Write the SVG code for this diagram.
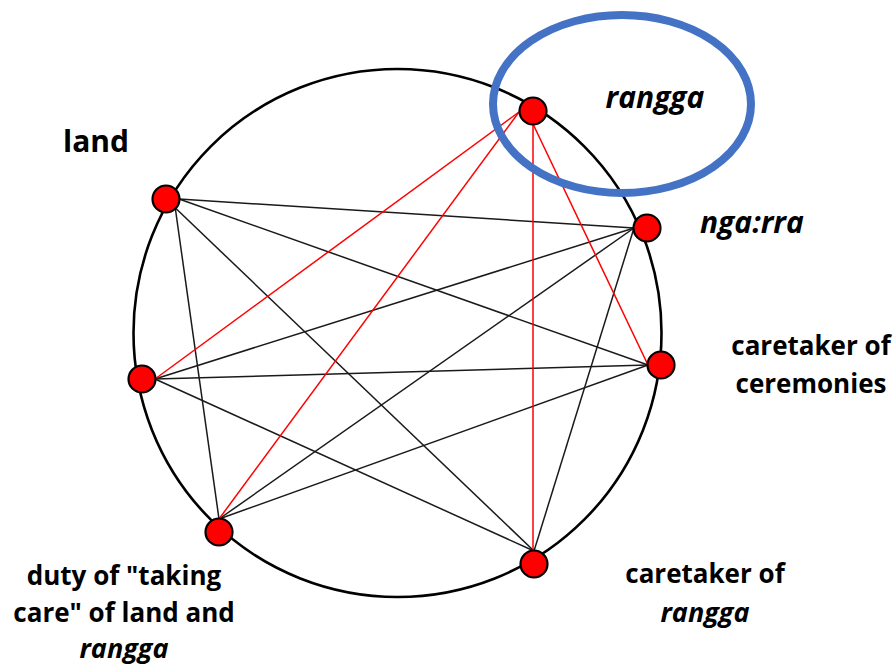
<svg xmlns="http://www.w3.org/2000/svg" width="896" height="668" viewBox="0 0 896 668">
  <style>
    .ring { fill: none; stroke: #000; stroke-width: 2.6; }
    .blk { stroke: #1a1a1a; stroke-width: 1.5; fill: none; }
    .red { stroke: #ff0000; stroke-width: 1.5; fill: none; }
    .node { fill: #ff0000; stroke: #000; stroke-width: 2.2; }
    .lbl { font-family: "Open Sans", "Liberation Sans", sans-serif; font-weight: 700; fill: #000; font-size: 26px; }
    .it { font-style: italic; }
    .hl { fill: none; stroke: #4472c4; stroke-width: 8; }
  </style>
  <rect width="896" height="668" fill="#fff"/>
  <circle class="ring" cx="397.5" cy="333" r="264"/>
  <g id="connectors">
    <line class="blk" x1="179" y1="199" x2="634" y2="228"/>
    <line class="blk" x1="179" y1="199" x2="648" y2="365"/>
    <line class="blk" x1="166" y1="199" x2="534" y2="551"/>
    <line class="blk" x1="174" y1="199" x2="219" y2="519"/>
    <line class="blk" x1="634" y1="228" x2="155" y2="379"/>
    <line class="blk" x1="634" y1="228" x2="219" y2="519"/>
    <line class="blk" x1="634" y1="228" x2="534" y2="551"/>
    <line class="blk" x1="648" y1="365" x2="155" y2="379"/>
    <line class="blk" x1="648" y1="365" x2="219" y2="519"/>
    <line class="blk" x1="534" y1="551" x2="155" y2="379"/>
    <line class="red" x1="519" y1="112" x2="155" y2="379"/>
    <line class="red" x1="519" y1="112" x2="219" y2="519"/>
    <line class="red" x1="533" y1="124" x2="533" y2="551"/>
    <line class="red" x1="533" y1="124" x2="648" y2="365"/>
  </g>
  <g id="node-rangga">
    <circle class="node" cx="533" cy="111" r="13.5"/>
    <text class="lbl it" x="655" y="108" text-anchor="middle" style="font-size:30px">rangga</text>
  </g>
  <g id="node-ngarra">
    <circle class="node" cx="647" cy="228" r="13.5"/>
    <text class="lbl it" x="700" y="233" style="font-size:30px">nga:rra</text>
  </g>
  <g id="node-ceremonies">
    <circle class="node" cx="661" cy="365" r="13.5"/>
    <text class="lbl" x="811" y="355" text-anchor="middle">caretaker of</text>
    <text class="lbl" x="811" y="393" text-anchor="middle">ceremonies</text>
  </g>
  <g id="node-caretaker-rangga">
    <circle class="node" cx="534" cy="564" r="13.5"/>
    <text class="lbl" x="705" y="583" text-anchor="middle">caretaker of</text>
    <text class="lbl it" x="705" y="622" text-anchor="middle" style="font-size:27px">rangga</text>
  </g>
  <g id="node-duty">
    <circle class="node" cx="219" cy="532" r="13.5"/>
    <text class="lbl" x="124" y="585" text-anchor="middle">duty of "taking</text>
    <text class="lbl" x="124" y="622" text-anchor="middle">care" of land and</text>
    <text class="lbl it" x="124" y="658" text-anchor="middle" style="font-size:27px">rangga</text>
  </g>
  <g id="node-left">
    <circle class="node" cx="142" cy="379" r="13.5"/>
  </g>
  <g id="node-land">
    <circle class="node" cx="166" cy="199" r="13.5"/>
    <text class="lbl" x="63" y="152" style="font-size:30px">land</text>
  </g>
  <g id="highlight">
    <ellipse class="hl" cx="622" cy="104" rx="129" ry="89"/>
  </g>
</svg>
